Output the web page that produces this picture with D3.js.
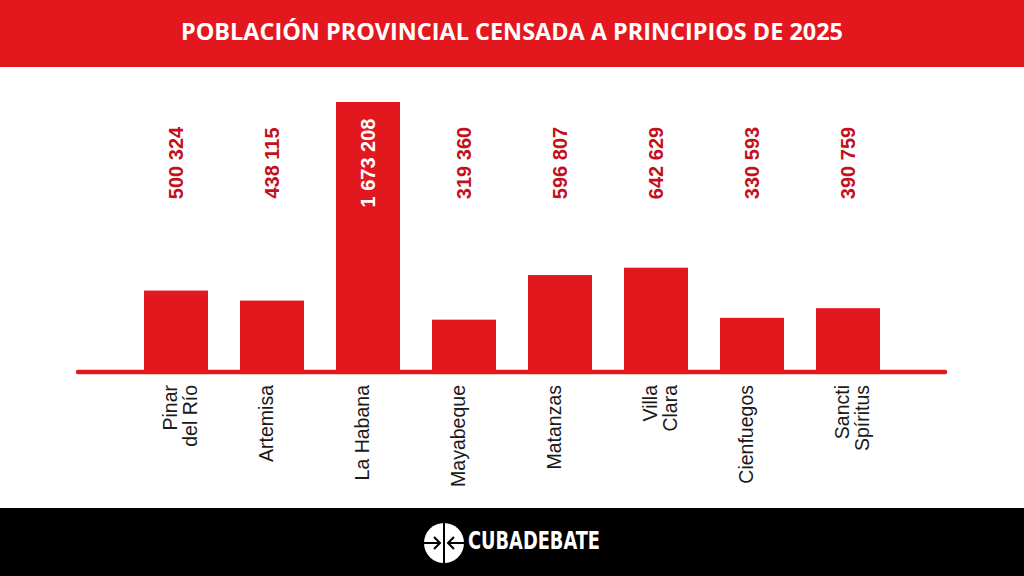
<!DOCTYPE html>
<html><head><meta charset="utf-8">
<script src="https://cdn.jsdelivr.net/npm/d3@7"></script>
<style>html,body{margin:0;padding:0;background:#fff;}svg{display:block;}</style>
</head><body>
<script>
const title = "POBLACIÓN PROVINCIAL CENSADA A PRINCIPIOS DE 2025";
const categories = ["Pinar\ndel Río", "Artemisa", "La Habana", "Mayabeque", "Matanzas", "Villa\nClara", "Cienfuegos", "Sancti\nSpíritus"];
const values = [500324, 438115, 1673208, 319360, 596807, 642629, 330593, 390759];
const valueLabels = ["500 324", "438 115", "1 673 208", "319 360", "596 807", "642 629", "330 593", "390 759"];
const brand = "CUBADEBATE";

const W = 1024, H = 576;
const RED = "#e3181f", LABEL_RED = "#c40f1d";
const svg = d3.select("body").append("svg").attr("width", W).attr("height", H);

// header
svg.append("rect").attr("x", 0).attr("y", 0).attr("width", W).attr("height", 67).attr("fill", RED);
svg.append("text").attr("x", 512).attr("y", 39.5).attr("text-anchor", "middle")
  .attr("font-family", "'Open Sans', 'Liberation Sans', sans-serif").attr("font-weight", "bold")
  .attr("font-size", 23).attr("fill", "#fff")
  .attr("textLength", 662).attr("lengthAdjust", "spacingAndGlyphs").text(title);

// scales
const x = d3.scaleBand().domain(categories).range([128, 896]).paddingInner(1/3).paddingOuter(1/6);
const y = d3.scaleLinear().domain([0, 1673208]).range([371, 102]);

// bars
svg.selectAll("rect.bar").data(values).enter().append("rect").attr("class", "bar")
  .attr("x", (d, i) => x(categories[i]))
  .attr("width", x.bandwidth())
  .attr("y", d => y(d))
  .attr("height", d => y(0) - y(d) + 1)
  .attr("fill", RED);

// axis line
svg.append("line").attr("x1", x.range()[0] - 50).attr("x2", x.range()[1] + 49)
  .attr("y1", 372).attr("y2", 372).attr("stroke", RED).attr("stroke-width", 4.5).attr("stroke-linecap", "round");

// value labels
svg.selectAll("text.val").data(valueLabels).enter().append("text").attr("class", "val")
  .attr("transform", (d, i) => `translate(${x(categories[i]) + x.bandwidth() / 2},163) rotate(-90)`)
  .attr("text-anchor", "middle").attr("dy", "0.35em")
  .attr("font-family", "'Liberation Sans', Arial, sans-serif").attr("font-weight", "bold").attr("font-size", 20)
  .attr("fill", (d, i) => y(values[i]) < 130 ? "#fff" : LABEL_RED)
  .text(d => d);

// category labels
const cg = svg.selectAll("g.cat").data(categories).enter().append("g").attr("class", "cat")
  .attr("transform", d => `translate(${x(d) + x.bandwidth() / 2},385) rotate(-90)`);
cg.each(function(d) {
  const t = d3.select(this).append("text").attr("text-anchor", "end")
    .attr("font-family", "'Liberation Sans', Arial, sans-serif").attr("font-size", 19.5).attr("fill", "#1a1a1a");
  d.split("\n").forEach((line, i) => {
    t.append("tspan").attr("x", 0).attr("y", 1 + i * 20).text(line);
  });
});

// footer
svg.append("rect").attr("x", 0).attr("y", 508).attr("width", W).attr("height", H - 508).attr("fill", "#000");
const lg = svg.append("g").attr("transform", "translate(444,543)");
lg.append("circle").attr("r", 20).attr("fill", "#fff");
lg.append("line").attr("x1", 0).attr("x2", 0).attr("y1", -21).attr("y2", 21).attr("stroke", "#000").attr("stroke-width", 2);
lg.append("line").attr("x1", -21).attr("x2", -4).attr("y1", 0).attr("y2", 0).attr("stroke", "#000").attr("stroke-width", 2);
lg.append("line").attr("x1", 4).attr("x2", 21).attr("y1", 0).attr("y2", 0).attr("stroke", "#000").attr("stroke-width", 2);
lg.append("path").attr("d", "M-10,-6 L-4,0 L-10,6").attr("fill", "none").attr("stroke", "#000").attr("stroke-width", 2);
lg.append("path").attr("d", "M10,-6 L4,0 L10,6").attr("fill", "none").attr("stroke", "#000").attr("stroke-width", 2);
svg.append("text").attr("x", 468).attr("y", 549)
  .attr("font-family", "'Liberation Sans Narrow', 'DejaVu Sans Condensed', 'Liberation Sans', sans-serif")
  .attr("font-weight", "bold").attr("font-size", 24).attr("fill", "#fff")
  .attr("textLength", 132).attr("lengthAdjust", "spacingAndGlyphs").text(brand);
</script>
</body></html>
